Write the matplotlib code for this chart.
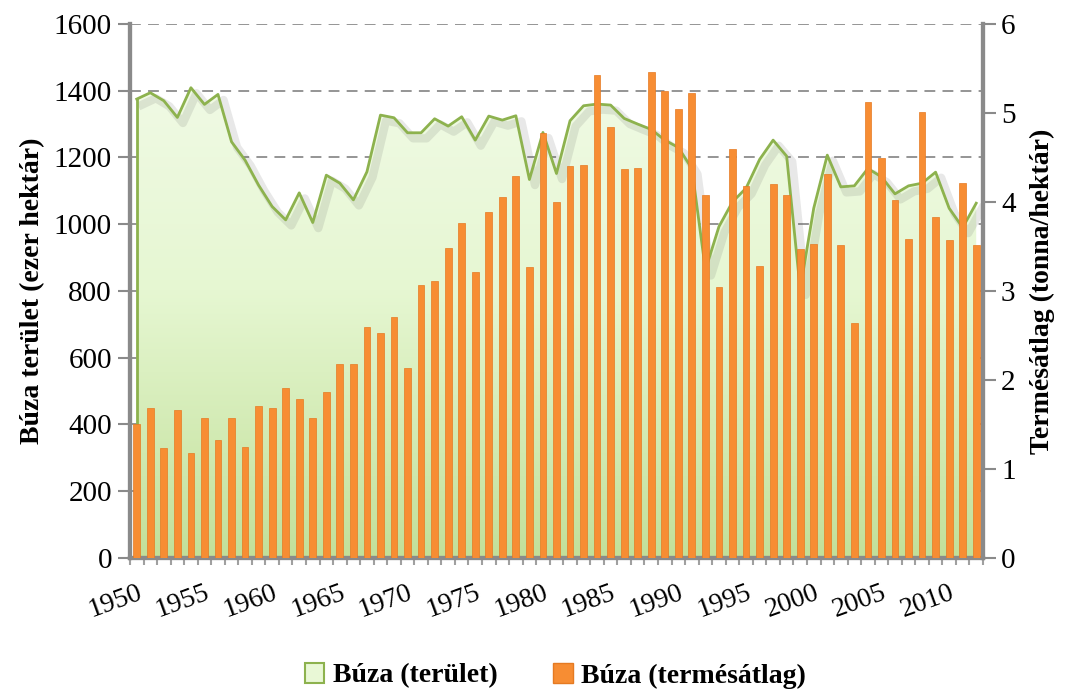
import numpy as np
import matplotlib
matplotlib.use('Agg')
import matplotlib.pyplot as plt
import matplotlib.patheffects as pe
from matplotlib.patches import Patch

plt.rcParams['font.family'] = ['Liberation Serif', 'DejaVu Serif']

years = list(range(1950, 2013))

# wheat area, thousand hectares (left axis)
terulet = [1375, 1394, 1370, 1320, 1409, 1359, 1389, 1247, 1192, 1117,
           1053, 1013, 1094, 1005, 1147, 1123, 1073, 1157, 1327, 1319,
           1274, 1274, 1316, 1294, 1322, 1252, 1324, 1312, 1325, 1134,
           1275, 1152, 1310, 1355, 1360, 1357, 1317, 1300, 1284, 1252,
           1230, 1167, 863, 993, 1067, 1108, 1194, 1252, 1204, 805,
           1048, 1207, 1112, 1115, 1167, 1142, 1091, 1115, 1123, 1156,
           1048, 990, 1063]

# average yield, tonnes/hectare (right axis)
termes = [1.51, 1.69, 1.24, 1.66, 1.18, 1.57, 1.33, 1.57, 1.25, 1.71,
          1.68, 1.91, 1.79, 1.57, 1.86, 2.18, 2.18, 2.59, 2.53, 2.71,
          2.14, 3.07, 3.11, 3.48, 3.76, 3.21, 3.89, 4.06, 4.29, 3.27,
          4.77, 4.00, 4.40, 4.42, 5.43, 4.84, 4.37, 4.38, 5.46, 5.25,
          5.05, 5.23, 4.08, 3.05, 4.60, 4.18, 3.28, 4.20, 4.08, 3.47,
          3.53, 4.31, 3.52, 2.64, 5.12, 4.49, 4.02, 3.58, 5.01, 3.83,
          3.57, 4.21, 3.52]

x = np.arange(len(years))
grey = '#8a8a8a'

fig = plt.figure(figsize=(10.68, 6.91), dpi=100)
ax = fig.add_axes([0.1217, 0.1925, 0.7987, 0.7728])

# area with vertical gradient
poly = ax.fill_between(x, terulet, 0, facecolor='none', edgecolor='none', zorder=2)
grad = np.linspace(1, 0, 256).reshape(-1, 1)
cmap = matplotlib.colors.LinearSegmentedColormap.from_list('g', ['#c2e09a', '#e6f7d2', '#f3fbea'])
img = ax.imshow(grad, cmap=cmap, aspect='auto', extent=[-0.5, len(x) - 0.5, 0, 1600],
                origin='upper', zorder=2)
img.set_clip_path(poly.get_paths()[0], transform=ax.transData)
ax.plot(x, terulet, color='#8db24e', lw=2, zorder=3,
        path_effects=[pe.SimpleLineShadow(offset=(4, -4), shadow_color='#666666', alpha=0.15, linewidth=6),
                      pe.Normal()])
ax.plot([0, 0], [0, terulet[0]], color='#8db24e', lw=2, zorder=3)

ax.set_xlim(-0.5, len(x) - 0.5)
ax.set_ylim(0, 1600)
ax.set_yticks(range(0, 1601, 200))
ax.yaxis.grid(True, ls=(0, (6, 4)), color='#8c8c8c', lw=1.3)
ax.set_axisbelow(True)
ax.tick_params(axis='y', labelsize=21, length=9, width=1.5, color=grey, direction='out', pad=4)
ax.set_ylabel('Búza terület (ezer hektár)', fontsize=20, fontweight='bold', labelpad=6)

# x axis: labels every 5 years, ticks on category boundaries
ax.set_xticks(x[::5])
ax.set_xticklabels([str(y) for y in years[::5]], rotation=20, ha='right', va='top',
                   rotation_mode='anchor', fontsize=20)
ax.set_xticks(np.arange(-0.5, len(x)), minor=True)
ax.tick_params(axis='x', which='major', length=0, pad=16)
ax.tick_params(axis='x', which='minor', length=5, width=1.5, color='#a0a0a0', direction='out')

ax.spines['top'].set_visible(False)
for s in ['left', 'right', 'bottom']:
    ax.spines[s].set_color(grey)
    ax.spines[s].set_linewidth(3)

ax2 = ax.twinx()
ax2.bar(x, termes, width=0.5, color='#f78d33', edgecolor='#e57a22', lw=0.5, zorder=3)
ax2.set_ylim(0, 6)
ax2.set_yticks(range(0, 7))
ax2.tick_params(axis='y', labelsize=21, length=9, width=1.5, color=grey, direction='out', pad=4)
ax2.set_ylabel('Termésátlag (tonna/hektár)', fontsize=20, fontweight='bold', labelpad=10)
ax2.spines['top'].set_visible(False)
for s in ['left', 'right', 'bottom']:
    ax2.spines[s].set_color(grey)
    ax2.spines[s].set_linewidth(3)

handles = [Patch(facecolor='#e9f8d6', edgecolor='#8db24e', lw=1.5, label='Búza (terület)'),
           Patch(facecolor='#f78d33', edgecolor='#e57a22', label='Búza (termésátlag)')]
fig.legend(handles=handles, loc='center', bbox_to_anchor=(0.52, 0.022), ncol=2,
           frameon=False, prop={'size': 20, 'weight': 'bold'},
           handlelength=0.7, handleheight=0.7, handletextpad=0.3, columnspacing=2.0)

fig.savefig('out.png', dpi=100)
